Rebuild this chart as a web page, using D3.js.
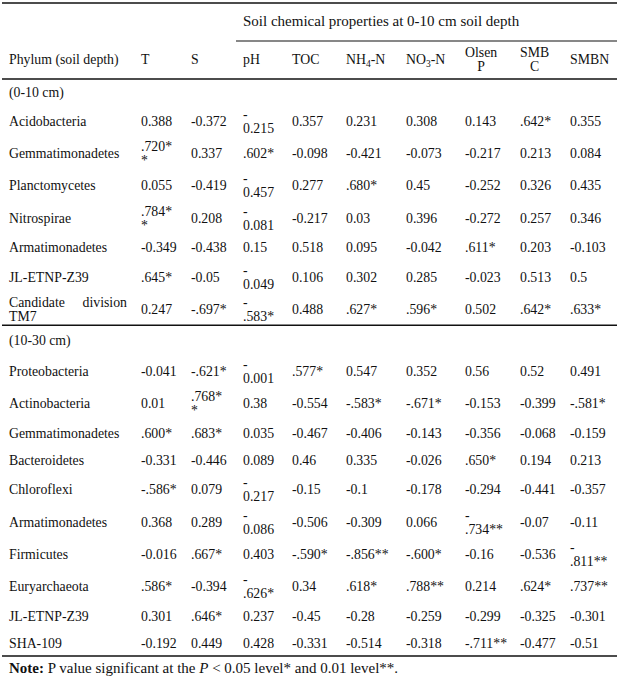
<!DOCTYPE html>
<html>
<head>
<meta charset="utf-8">
<script src="https://cdn.jsdelivr.net/npm/d3@7"></script>
<style>
  body { margin: 0; background: #fff; }
  text { font-family: "Liberation Serif", "Times New Roman", serif; fill: #111; }
</style>
</head>
<body>
<div class="table-container"></div>
<script>
// Table content
const groupTitle = "Soil chemical properties at 0-10 cm soil depth";
const headers = ["Phylum (soil depth)", "T", "S", "pH", "TOC", "NH_4-N", "NO_3-N", "Olsen\nP", "SMB\nC", "SMBN"];

const depth1 = "(0-10 cm)";
const phyla1 = ["Acidobacteria", "Gemmatimonadetes", "Planctomycetes", "Nitrospirae",
    "Armatimonadetes", "JL-ETNP-Z39", "Candidate division\nTM7"];
const values1 = [
    ["0.388", "-0.372", "-\n0.215", "0.357", "0.231", "0.308", "0.143", ".642*", "0.355"],
    [".720*\n*", "0.337", ".602*", "-0.098", "-0.421", "-0.073", "-0.217", "0.213", "0.084"],
    ["0.055", "-0.419", "-\n0.457", "0.277", ".680*", "0.45", "-0.252", "0.326", "0.435"],
    [".784*\n*", "0.208", "-\n0.081", "-0.217", "0.03", "0.396", "-0.272", "0.257", "0.346"],
    ["-0.349", "-0.438", "0.15", "0.518", "0.095", "-0.042", ".611*", "0.203", "-0.103"],
    [".645*", "-0.05", "-\n0.049", "0.106", "0.302", "0.285", "-0.023", "0.513", "0.5"],
    ["0.247", "-.697*", "-\n.583*", "0.488", ".627*", ".596*", "0.502", ".642*", ".633*"]
];

const depth2 = "(10-30 cm)";
const phyla2 = ["Proteobacteria", "Actinobacteria", "Gemmatimonadetes", "Bacteroidetes", "Chloroflexi",
    "Armatimonadetes", "Firmicutes", "Euryarchaeota", "JL-ETNP-Z39", "SHA-109"];
const values2 = [
    ["-0.041", "-.621*", "-\n0.001", ".577*", "0.547", "0.352", "0.56", "0.52", "0.491"],
    ["0.01", ".768*\n*", "0.38", "-0.554", "-.583*", "-.671*", "-0.153", "-0.399", "-.581*"],
    [".600*", ".683*", "0.035", "-0.467", "-0.406", "-0.143", "-0.356", "-0.068", "-0.159"],
    ["-0.331", "-0.446", "0.089", "0.46", "0.335", "-0.026", ".650*", "0.194", "0.213"],
    ["-.586*", "0.079", "-\n0.217", "-0.15", "-0.1", "-0.178", "-0.294", "-0.441", "-0.357"],
    ["0.368", "0.289", "-\n0.086", "-0.506", "-0.309", "0.066", "-\n.734**", "-0.07", "-0.11"],
    ["-0.016", ".667*", "0.403", "-.590*", "-.856**", "-.600*", "-0.16", "-0.536", "-\n.811**"],
    [".586*", "-0.394", "-\n.626*", "0.34", ".618*", ".788**", "0.214", ".624*", ".737**"],
    ["0.301", ".646*", "0.237", "-0.45", "-0.28", "-0.259", "-0.299", "-0.325", "-0.301"],
    ["-0.192", "0.449", "0.428", "-0.331", "-0.514", "-0.318", "-.711**", "-0.477", "-0.51"]
];

function draw() {
    // Dimensions
    const width = 623;
    const height = 676;
    const tableLeft = 2;
    const tableRight = 617;
    const fontSize = 13.8;
    const lineHeight = 14;
    const headerRuleY = 79;
    const bodyBottom = 656;

    // column widths -> x positions of cell text
    const colWidths = [132, 50, 52, 49, 54, 60, 59, 55, 50, 47];
    const colX = [9, ...d3.cumsum(colWidths).map(w => 9 + w)].slice(0, headers.length);
    const labelWidth = 118;

    const svg = d3.select('.table-container').append("svg")
        .attr("width", width)
        .attr("height", height)
        .style('font-size', fontSize + 'px');

    // Build rows
    const sections = [
        { title: depth1, phyla: phyla1, values: values1 },
        { title: depth2, phyla: phyla2, values: values2 }
    ];
    const rows = [];
    sections.forEach((s, si) => {
        rows.push({ kind: 'head', label: s.title, units: si === 0 ? 0.95 : 1.1, section: si });
        s.phyla.forEach((p, i) => {
            const cells = [p, ...s.values[i]];
            const lines = d3.max(cells, c => c.split('\n').length);
            rows.push({ kind: 'data', label: p, values: s.values[i], units: lines > 1 ? 1.2 : 1, section: si });
        });
    });
    const ends = d3.cumsum(rows, r => r.units);
    rows.forEach((r, i) => { r.start = ends[i] - r.units; r.end = ends[i]; });

    const y = d3.scaleLinear()
        .domain([0, ends[ends.length - 1]])
        .range([headerRuleY, bodyBottom]);

    // draw multi-line text centered vertically around cy
    function cellText(str, x, cy, opts = {}) {
        const parts = str.split('\n');
        const n = parts.length;
        const g = svg.append('g');
        parts.forEach((line, i) => {
            const by = cy + 5 + (i - (n - 1) / 2) * lineHeight;
            if (opts.justify && i < n - 1 && line.includes(' ')) {
                const words = line.split(' ');
                const nodes = words.map(w => g.append('text').attr('y', by).text(w));
                const total = d3.sum(nodes, t => t.node().getComputedTextLength());
                const gap = (labelWidth - total) / (words.length - 1);
                let cx = x;
                nodes.forEach(t => {
                    t.attr('x', cx);
                    cx += t.node().getComputedTextLength() + gap;
                });
            } else {
                const t = g.append('text').attr('x', x).attr('y', by);
                // subscripts written as _d
                const bits = line.split(/_(\d)/);
                bits.forEach((b, bi) => {
                    if (!b) return;
                    if (bi % 2 === 1) {
                        t.append('tspan').attr('dy', 3).style('font-size', '9.5px').text(b);
                    } else {
                        t.append('tspan').attr('dy', bi > 0 ? -3 : 0).text(b);
                    }
                });
            }
        });
        if (opts.center) {
            const texts = g.selectAll('text').nodes();
            const widths = texts.map(t => t.getComputedTextLength());
            const maxW = d3.max(widths);
            texts.forEach((t, i) => d3.select(t).attr('x', x + (maxW - widths[i]) / 2));
        }
        return g;
    }

    function rule(x1, x2, yy, w) {
        svg.append('line')
            .attr('x1', x1).attr('x2', x2)
            .attr('y1', yy).attr('y2', yy)
            .attr('stroke', '#111')
            .attr('stroke-width', w);
    }

    // Header
    rule(tableLeft, tableRight, 3, 1.5);
    svg.append('text')
        .attr('x', colX[3])
        .attr('y', 26)
        .style('font-size', '15px')
        .text(groupTitle);
    rule(colX[3] - 7, tableRight, 41, 1.2);

    headers.forEach((h, i) => {
        cellText(h, colX[i], 59, { center: h.includes('\n') });
    });
    rule(tableLeft, tableRight, headerRuleY, 1.5);

    // Body
    rows.forEach(r => {
        const cy = y((r.start + r.end) / 2);
        if (r.kind === 'head') {
            cellText(r.label, colX[0], cy);
            return;
        }
        cellText(r.label, colX[0], cy, { justify: true });
        r.values.forEach((v, j) => cellText(v, colX[j + 1], cy));
    });

    // section rules
    const sectionEnds = d3.rollup(rows, v => d3.max(v, r => r.end), r => r.section);
    sectionEnds.forEach(e => rule(tableLeft, tableRight, y(e), 1.5));

    // Note
    const note = svg.append('text')
        .attr('x', colX[0])
        .attr('y', y(ends[ends.length - 1]) + 17)
        .style('font-size', '15px');
    note.append('tspan').style('font-weight', 'bold').text('Note:');
    note.append('tspan').text(' P value significant at the ');
    note.append('tspan').style('font-style', 'italic').text('P');
    note.append('tspan').text(' < 0.05 level* and 0.01 level**.');
}

draw();
</script>
</body>
</html>
